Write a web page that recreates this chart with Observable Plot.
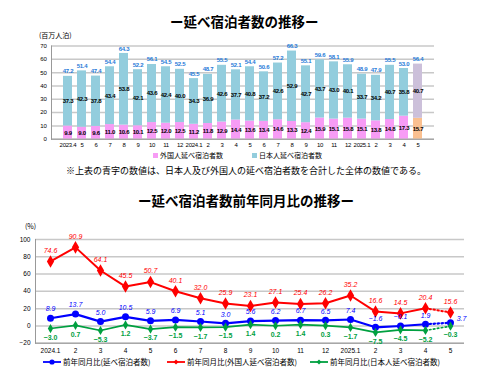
<!DOCTYPE html>
<html><head><meta charset="utf-8">
<script src="https://cdn.jsdelivr.net/npm/d3@7"></script>
<script src="https://cdn.jsdelivr.net/npm/@observablehq/plot@0.6"></script>
<style>
body{margin:0;background:#fff;}
#root{position:relative;width:500px;height:389px;overflow:hidden;font-family:"Liberation Sans","Noto Sans CJK JP",sans-serif;color:#000;}
.abs{position:absolute;white-space:nowrap;line-height:1;}
.title{font-family:"Noto Sans CJK JP",sans-serif;font-weight:bold;font-size:13.5px;}
.lg{font-family:"Noto Sans CJK JP",sans-serif;font-size:7.5px;display:flex;align-items:center;}
.sw{display:inline-block;width:5px;height:5px;margin-right:2px;}
.narrow text{letter-spacing:-0.25px;}
</style></head><body><div id="root"></div>
<script>
// ---- Data: overnight stays (million person-nights) ----
const months1 = ["2023.4","5","6","7","8","9","10","11","12","2024.1","2","3","4","5","6","7","8","9","10","11","12","2025.1","2","3","4","5"];
const totals   = [47.2,51.4,47.4,54.4,64.3,52.2,56.1,54.5,52.5,45.5,48.7,55.5,52.1,54.4,50.6,57.2,66.3,55.1,59.6,58.1,55.9,48.9,47.9,55.5,53.0,56.4];
const japanese = [37.3,42.3,37.8,43.4,53.8,42.1,43.6,42.4,40.0,34.3,36.9,42.6,37.7,40.8,37.2,42.6,52.9,42.7,43.7,43.0,40.1,33.7,34.2,40.7,35.8,40.7];
const foreign  = [9.9,9.0,9.6,11.0,10.6,10.1,12.5,12.0,12.5,11.2,11.8,12.9,14.4,13.6,13.4,14.6,13.3,12.4,15.9,15.1,15.8,15.1,13.8,14.8,17.3,15.7];
const yTicks1 = [0,10,20,30,40,50,60,70];

// ---- Data: year-over-year change (%) ----
const months2 = ["2024.1","2","3","4","5","6","7","8","9","10","11","12","2025.1","2","3","4","5"];
const yoyTotal    = [8.9,13.7,5.0,10.5,5.9,6.9,5.1,3.0,5.6,6.2,6.7,6.5,7.4,-1.6,-0.1,1.9,3.7];
const yoyForeign  = [74.6,90.9,64.1,45.5,50.7,40.1,32.0,25.9,23.1,27.1,25.4,26.2,35.2,16.6,14.5,20.4,15.6];
const yoyJapanese = [-3.0,0.7,-5.3,1.2,-3.7,-1.5,-1.7,-1.5,1.4,0.2,1.4,0.3,-1.7,-7.5,-4.5,-5.2,-0.3];
const yTicks2 = [-20,0,20,40,60,80,100];

const root = document.getElementById("root");
function addDiv(html, cls, style){const d=document.createElement("div");d.className="abs "+(cls||"");d.innerHTML=html;Object.assign(d.style,style);root.appendChild(d);return d;}
const fmt = v => v.toFixed(1).replace("-", "−");
const FONT = '"Liberation Sans","Noto Sans CJK JP",sans-serif';

// ---- Top chart ----
addDiv("ー延べ宿泊者数の推移ー","title",{left:"170px",top:"15px"});
addDiv("(百万人泊)","",{left:"39px",top:"32px",fontSize:"7px",fontFamily:'"Noto Sans CJK JP",sans-serif'});

const lastI = months1.length - 1;
const rows = [];
foreign.forEach((v,i)=>rows.push({i, grp:"foreign", v}));
japanese.forEach((v,i)=>rows.push({i, grp:"japan", v}));
const colorOf = d => d.grp==="foreign" ? (d.i===lastI ? "#fac090" : "#f79cf5") : (d.i===lastI ? "#ccc0da" : "#93cddd");

const chartTop = Plot.plot({
  width:500, height:125, marginTop:15.5, marginBottom:16.3, marginLeft:51, marginRight:66,
  className:"narrow",
  style:{fontSize:"6px", fontFamily:FONT, background:"transparent"},
  x:{type:"band", domain:d3.range(months1.length), padding:0.38, tickFormat:i=>months1[i], tickSize:0, tickPadding:4, label:null},
  y:{domain:[0,70], ticks:yTicks1, tickSize:0, tickPadding:5, label:null},
  color:{type:"identity"},
  marks:[
    Plot.gridY(yTicks1,{stroke:"#c8c8c8", strokeOpacity:1, strokeWidth:1.5}),
    Plot.barY(rows, Plot.stackY({x:"i", y:"v", fill:colorOf})),
    Plot.frame({anchor:"left", stroke:"#999"}),
    Plot.ruleY([0],{stroke:"#999"}),
    Plot.text(foreign,{x:(d,i)=>i, y:d=>d/2, text:fmt, fontWeight:"bold", fontSize:6}),
    Plot.text(japanese,{x:(d,i)=>i, y:(d,i)=>foreign[i]+d/2, text:fmt, fontWeight:"bold", fontSize:6}),
    Plot.text(totals,{x:(d,i)=>i, y:d=>d, dy:-5, text:fmt, fill:"#1f7ad8", fontWeight:"bold", fontSize:6})
  ]
});
chartTop.style.position="absolute"; chartTop.style.left="0px"; chartTop.style.top="30px";
root.appendChild(chartTop);

addDiv('<span class="sw" style="background:#f79cf5"></span>外国人延べ宿泊者数',"lg",{left:"153px",top:"152px",fontSize:"7px"});
addDiv('<span class="sw" style="background:#93cddd"></span>日本人延べ宿泊者数',"lg",{left:"252px",top:"152px",fontSize:"7px"});
addDiv("※上表の青字の数値は、日本人及び外国人の延べ宿泊者数を合計した全体の数値である。","",{left:"66px",top:"165.5px",fontSize:"9px",fontFamily:'"Noto Sans CJK JP",sans-serif'});

// ---- Bottom chart ----
addDiv("ー延べ宿泊者数前年同月比の推移ー","title",{left:"138px",top:"194px"});
addDiv("(%)","",{left:"25px",top:"223px",fontSize:"7px",fontFamily:'"Noto Sans CJK JP",sans-serif'});

const n2 = months2.length;
const series = [
  {vals:yoyForeign, color:"#ff0000", symbol:"diamond", r:3.8, sw:2},
  {vals:yoyTotal, color:"#0000ff", symbol:"circle", r:3.5, sw:2.2},
  {vals:yoyJapanese, color:"#00a040", symbol:"diamond", r:2.8, sw:1.7}
];
const marks2 = [
  Plot.gridY(yTicks2,{stroke:"#c8c8c8", strokeOpacity:1, strokeWidth:1.5}),
  Plot.frame({anchor:"left", stroke:"#999"}),
  Plot.ruleY([-20],{stroke:"#999"})
];
for (const s of series) {
  marks2.push(Plot.lineY(s.vals.slice(0,n2-1),{x:(d,i)=>i, y:d=>d, stroke:s.color, strokeWidth:s.sw}));
  marks2.push(Plot.lineY(s.vals.slice(n2-2),{x:(d,i)=>i+n2-2, y:d=>d, stroke:s.color, strokeWidth:s.sw, strokeDasharray:"1.5,2.5"}));
  marks2.push(Plot.dot(s.vals,{x:(d,i)=>i, y:d=>d, fill:s.color, stroke:null, symbol:s.symbol, r:s.r}));
}
marks2.push(Plot.text(yoyForeign,{x:(d,i)=>i, y:d=>d, dy:-11, text:fmt, fill:"#ff0000", fontStyle:"italic", fontSize:7}));
marks2.push(Plot.text(yoyTotal.slice(0,n2-1),{x:(d,i)=>i, y:d=>d, dy:-9, text:fmt, fill:"#0000ff", fontStyle:"italic", fontSize:7}));
marks2.push(Plot.text(yoyTotal.slice(n2-1),{x:(d,i)=>i+n2-1, y:d=>d, dx:11, dy:-4, text:fmt, fill:"#0000ff", fontStyle:"italic", fontSize:7}));
marks2.push(Plot.text(yoyJapanese,{x:(d,i)=>i, y:d=>d, dy:9, text:fmt, fill:"#00a040", fontWeight:"bold", fontSize:7}));

const chartBottom = Plot.plot({
  width:500, height:134, marginTop:17, marginBottom:13.3, marginLeft:35, marginRight:36,
  style:{fontSize:"6.5px", fontFamily:FONT, background:"transparent"},
  x:{type:"point", domain:d3.range(n2), padding:0.5, tickFormat:i=>months2[i], tickSize:0, tickPadding:5, label:null},
  y:{domain:[-20,100], ticks:yTicks2, tickSize:0, tickPadding:5, label:null},
  marks:marks2
});
chartBottom.style.position="absolute"; chartBottom.style.left="0px"; chartBottom.style.top="222px";
root.appendChild(chartBottom);

function lineSwatch(color, symbol){
  const shape = symbol==="circle" ? `<circle cx="9" cy="4" r="2.6" fill="${color}"/>` : `<path d="M9 1.5 L11.5 4 L9 6.5 L6.5 4Z" fill="${color}"/>`;
  return `<svg width="18" height="8" style="margin-right:2px"><line x1="0" x2="18" y1="4" y2="4" stroke="${color}" stroke-width="1.8"/>${shape}</svg>`;
}
addDiv(lineSwatch("#0000ff","circle")+"前年同月比(延べ宿泊者数)","lg",{left:"43px",top:"358px"});
addDiv(lineSwatch("#ff0000","diamond")+"前年同月比(外国人延べ宿泊者数)","lg",{left:"167px",top:"358px"});
addDiv(lineSwatch("#00a040","diamond")+"前年同月比(日本人延べ宿泊者数)","lg",{left:"310px",top:"358px"});
</script></body></html>
